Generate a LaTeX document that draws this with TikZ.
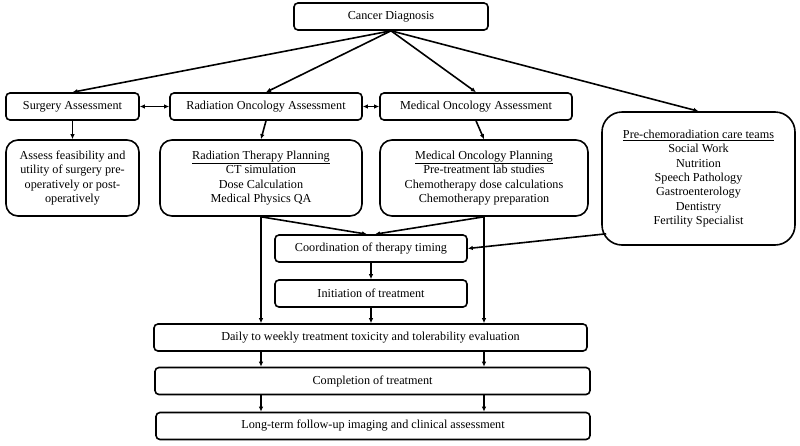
\documentclass[tikz,border=0pt]{standalone}
\usepackage{fontspec}
\setmainfont{Liberation Serif}
\usetikzlibrary{arrows.meta}
\begin{document}
\begin{tikzpicture}[x=1pt, y=-1pt, line width=1.6pt, >={Latex[length=5pt, width=4.5pt]},
        every node/.style={font=\fontsize{12.2}{14.4}\selectfont, align=center, inner sep=0pt},
        box/.style={draw, rounded corners=4pt, minimum width=#1, minimum height=27pt},
        big/.style={draw, rounded corners=12pt, minimum width=#1, minimum height=76pt}]
        \useasboundingbox (0,0) rectangle (800,445);

        \node[box=194pt] (diag) at (391, 16.5) {Cancer Diagnosis};
        \node[box=133pt] (surg) at (72.5, 106.5) {Surgery Assessment};
        \node[box=192pt] (radA) at (266, 106.5) {Radiation Oncology Assessment};
        \node[box=192pt] (medA) at (476, 106.5) {Medical Oncology Assessment};
        \node[draw, rounded corners=20pt, minimum width=193pt, minimum height=133pt] (teams) at (698.5, 178.5)
            {\underline{Pre-chemoradiation care teams}\\Social Work\\Nutrition\\Speech Pathology\\Gastroenterology\\Dentistry\\Fertility Specialist};
        \node[big=133pt] (feas) at (72.5, 178) {Assess feasibility and\\utility of surgery pre-\\operatively or post-\\operatively};
        \node[big=202pt] (rtp) at (261, 178) {\underline{Radiation Therapy Planning}\\CT simulation\\Dose Calculation\\Medical Physics QA};
        \node[big=208pt] (mop) at (484, 178) {\underline{Medical Oncology Planning}\\Pre-treatment lab studies\\Chemotherapy dose calculations\\Chemotherapy preparation};
        \node[box=192pt] (coord) at (371, 248.5) {Coordination of therapy timing};
        \node[box=192pt] (init) at (371, 293.5) {Initiation of treatment};
        \node[box=433pt] (daily) at (370.5, 337.5) {Daily to weekly treatment toxicity and tolerability evaluation};
        \node[box=435pt] (compl) at (372.5, 381) {Completion of treatment};
        \node[box=434pt] (follow) at (373, 426) {Long-term follow-up imaging and clinical assessment};

        \draw (diag.south) edge[->] (surg.north);
        \draw (diag.south) edge[->] (radA.north);
        \draw (diag.south) edge[->] (medA.north);
        \draw (diag.south) edge[->] (teams.north);
        \draw (surg) edge[<->] (radA);
        \draw (radA) edge[<->] (medA);
        \draw (surg) edge[->] (feas);
        \draw (radA.south) edge[->] (rtp.north);
        \draw (medA.south) edge[->] (mop.north);
        \draw (rtp.south) edge[->] ([xshift=-4pt]coord.north);
        \draw (mop.south) edge[->] ([xshift=4pt]coord.north);
        \draw[->] (rtp.south) -- (rtp.south |- daily.north);
        \draw[->] (mop.south) -- (mop.south |- daily.north);
        \draw ([shift={(5pt,12pt)}]teams.south west) edge[->] (coord.east);
        \draw (coord) edge[->] (init);
        \draw[->] (init.south) -- (init.south |- daily.north);
        \draw[->] (daily.south -| rtp.south) -- (compl.north -| rtp.south);
        \draw[->] (daily.south -| mop.south) -- (compl.north -| mop.south);
        \draw[->] (compl.south -| rtp.south) -- (follow.north -| rtp.south);
        \draw[->] (compl.south -| mop.south) -- (follow.north -| mop.south);
    \end{tikzpicture}
\end{document}
